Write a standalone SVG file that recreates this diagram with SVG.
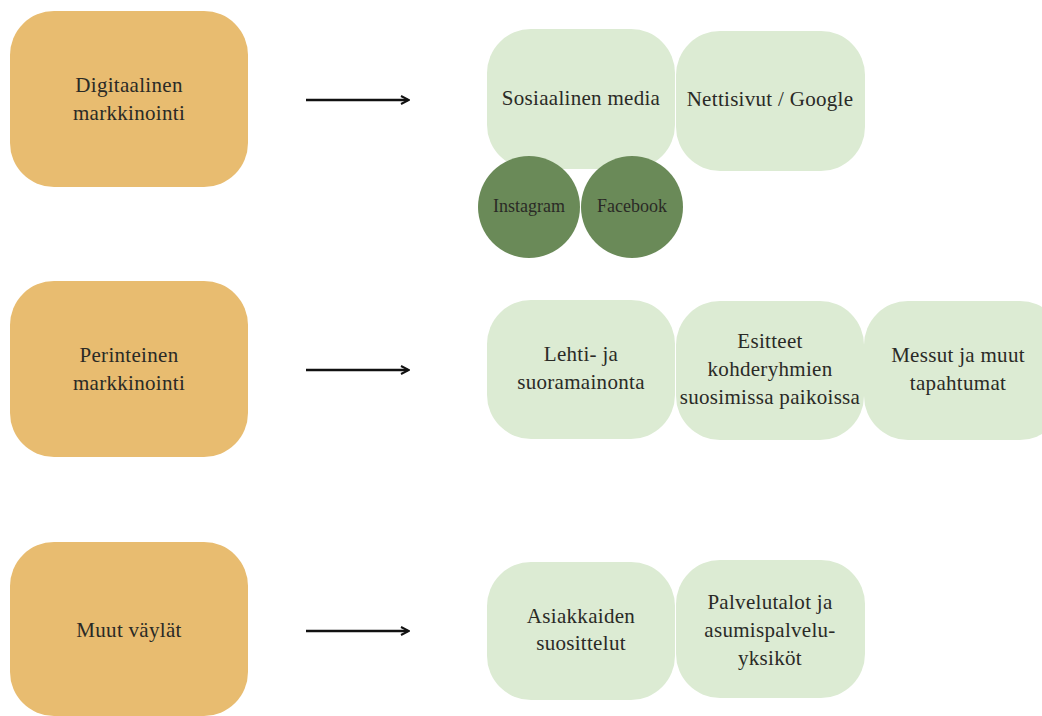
<svg xmlns="http://www.w3.org/2000/svg" width="1042" height="716" viewBox="0 0 1042 716">
<defs>
<style>
.cat{fill:#E8BC70}
.opt{fill:#DCEBD3}
.sub{fill:#6A8A58}
text{font-family:"Liberation Serif",serif;fill:#2a2a26;text-anchor:middle}
.t{font-size:21px;letter-spacing:0.3px}
.s{font-size:18px}
.c{stroke:#111;stroke-width:2.5;fill:none}
</style>
<marker id="ah" viewBox="0 0 10 10" refX="8" refY="5" markerWidth="4" markerHeight="4" orient="auto" markerUnits="strokeWidth">
<path d="M1,1 L9,5 L1,9" fill="none" stroke="#111" stroke-width="2"/>
</marker>
</defs>
<rect width="1042" height="716" fill="#fff"/>
<g id="connectors">
<line class="c" x1="306" y1="100" x2="408" y2="100" marker-end="url(#ah)"/>
<line class="c" x1="306" y1="370" x2="408" y2="370" marker-end="url(#ah)"/>
<line class="c" x1="306" y1="631" x2="408" y2="631" marker-end="url(#ah)"/>
</g>
<g id="digitaalinen">
<rect class="cat" x="10" y="11" width="238" height="176" rx="44"/>
<text class="t" x="129" y="92">Digitaalinen</text>
<text class="t" x="129" y="120">markkinointi</text>
</g>
<g id="perinteinen">
<rect class="cat" x="10" y="281" width="238" height="176" rx="44"/>
<text class="t" x="129" y="362">Perinteinen</text>
<text class="t" x="129" y="390">markkinointi</text>
</g>
<g id="muut">
<rect class="cat" x="10" y="542" width="238" height="174" rx="44"/>
<text class="t" x="129" y="637">Muut väylät</text>
</g>
<g id="sosiaalinen">
<rect class="opt" x="487" y="29" width="188" height="140" rx="44"/>
<text class="t" x="581" y="105">Sosiaalinen media</text>
</g>
<g id="nettisivut">
<rect class="opt" x="676" y="31" width="189" height="140" rx="44"/>
<text class="t" x="770" y="106">Nettisivut / Google</text>
</g>
<g id="instagram">
<circle class="sub" cx="529" cy="207" r="51"/>
<text class="s" x="529" y="212">Instagram</text>
</g>
<g id="facebook">
<circle class="sub" cx="632" cy="207" r="51"/>
<text class="s" x="632" y="212">Facebook</text>
</g>
<g id="lehti">
<rect class="opt" x="487" y="300" width="188" height="139" rx="44"/>
<text class="t" x="581" y="361">Lehti- ja</text>
<text class="t" x="581" y="389">suoramainonta</text>
</g>
<g id="esitteet">
<rect class="opt" x="676" y="301" width="188" height="139" rx="44"/>
<text class="t" x="770" y="348">Esitteet</text>
<text class="t" x="770" y="376">kohderyhmien</text>
<text class="t" x="770" y="404">suosimissa paikoissa</text>
</g>
<g id="messut">
<rect class="opt" x="864" y="301" width="200" height="139" rx="44"/>
<text class="t" x="958" y="362">Messut ja muut</text>
<text class="t" x="958" y="390">tapahtumat</text>
</g>
<g id="asiakkaiden">
<rect class="opt" x="487" y="562" width="188" height="138" rx="44"/>
<text class="t" x="581" y="623">Asiakkaiden</text>
<text class="t" x="581" y="650">suosittelut</text>
</g>
<g id="palvelutalot">
<rect class="opt" x="676" y="560" width="189" height="138" rx="44"/>
<text class="t" x="770" y="609">Palvelutalot ja</text>
<text class="t" x="770" y="637">asumispalvelu-</text>
<text class="t" x="770" y="665">yksiköt</text>
</g>
</svg>
